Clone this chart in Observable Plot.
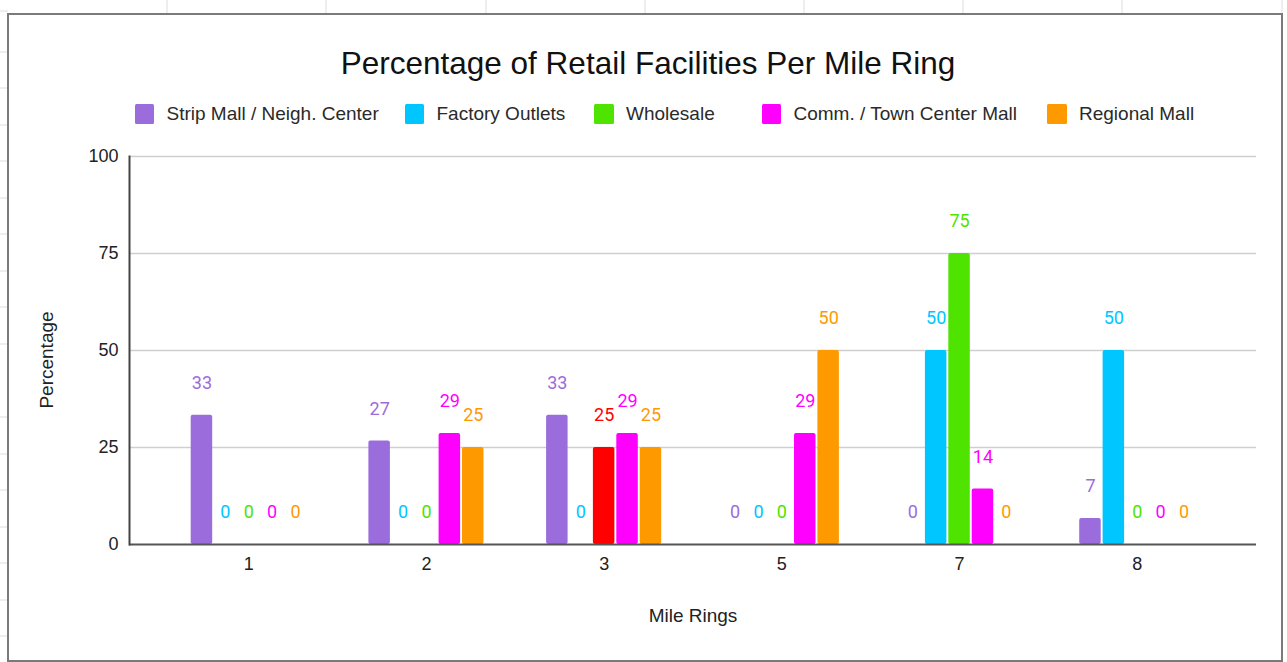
<!DOCTYPE html>
<html>
<head>
<meta charset="utf-8">
<script src="https://cdn.jsdelivr.net/npm/d3@7"></script>
<script src="https://cdn.jsdelivr.net/npm/@observablehq/plot@0.6"></script>
<style>
  html, body { margin: 0; padding: 0; background: #fff; }
  #page { position: relative; width: 1287px; height: 662px; overflow: hidden; font-family: "Liberation Sans", Arial, sans-serif; }
  #cols { position: absolute; left: 0; top: 0; width: 1287px; height: 662px;
    background-image: repeating-linear-gradient(90deg, transparent 0px, transparent 158.2px, #dcdcdc 158.2px, #dcdcdc 159.2px);
    background-position: 8.5px 0; }
  #rows { position: absolute; left: 0; top: 0; width: 8px; height: 662px;
    background-image: repeating-linear-gradient(180deg, transparent 0px, transparent 35.55px, #dcdcdc 35.55px, #dcdcdc 36.55px);
    background-position: 0 15.5px; }
  #box { position: absolute; left: 7px; top: 12.5px; width: 1276px; height: 649px; box-sizing: border-box;
    border: 2px solid #7a7a7a; background: #fff; }
  #title { position: absolute; left: 0; width: 1287px; top: 48px; text-align: center; padding-left: 9px; box-sizing: border-box;
    font-size: 31.5px; line-height: 1; color: #111; white-space: nowrap; }
  .sw { position: absolute; width: 19.5px; height: 20.5px; top: 103.5px; border-radius: 1.5px; }
  .lt { position: absolute; top: 104px; font-size: 19px; line-height: 1; color: #2a2a2a; white-space: nowrap; }
  #chart { position: absolute; left: 0; top: 140px; }
</style>
</head>
<body>
<div id="page">
  <div id="cols"></div>
  <div id="rows"></div>
  <div id="box"></div>
  <div id="title"></div>
  <div id="legend"></div>
  <div id="chart"></div>
</div>
<script>
// ---- data ----
const chartTitle = "Percentage of Retail Facilities Per Mile Ring";
const xTitle = "Mile Rings";
const yTitle = "Percentage";
const rings = ["1", "2", "3", "5", "7", "8"];
const seriesNames = ["Strip Mall / Neigh. Center", "Factory Outlets", "Wholesale", "Comm. / Town Center Mall", "Regional Mall"];
const seriesColors = ["#9b6cdc", "#00c6ff", "#4fe300", "#ff00ff", "#ff9900"];
const stripMall      = [33.3, 26.7, 33.3, 0, 0, 6.7];
const factoryOutlets = [0, 0, 0, 0, 50, 50];
const wholesale      = [0, 0, 25, 0, 75, 0];
const commTownCenter = [0, 28.6, 28.6, 28.6, 14.3, 0];
const regionalMall   = [0, 25, 25, 50, 0, 0];
// single data point drawn in a different colour in the source
const highlightRing = "3";
const highlightSeries = "Wholesale";
const highlightColor = "#ff0000";
const yTicks = [0, 25, 50, 75, 100];

// ---- layout (style only) ----
const legendX = [134.5, 404.5, 594, 761.5, 1047];
const W = 1287, H = 520, mL = 129, mR = 31, mT = 16, mB = 116;
const padIn = 0.1, padOut = 0.221;
const subStep = 23.4, barW = 21.5;

const seriesValues = [stripMall, factoryOutlets, wholesale, commTownCenter, regionalMall];
const bySeries = seriesNames.map((s, i) => rings.map((r, j) => ({
  ring: r, series: s, value: seriesValues[i][j],
  color: (r === highlightRing && s === highlightSeries) ? highlightColor : seriesColors[i]
})));

document.getElementById("title").textContent = chartTitle;
const legend = document.getElementById("legend");
seriesNames.forEach((s, i) => {
  const sw = document.createElement("div");
  sw.className = "sw";
  sw.style.left = legendX[i] + "px";
  sw.style.background = seriesColors[i];
  legend.appendChild(sw);
  const t = document.createElement("div");
  t.className = "lt";
  t.style.left = (legendX[i] + 32) + "px";
  t.textContent = s;
  legend.appendChild(t);
});

// band width of the ring scale (same parameters as Plot's x scale below)
const bw = d3.scaleBand(rings, [mL, W - mR]).paddingInner(padIn).paddingOuter(padOut).bandwidth();
const inset = (bw - barW) / 2;
const mid = (seriesNames.length - 1) / 2;

const barMarks = [];
const labelMarks = [];
bySeries.forEach((rows, i) => {
  const off = (i - mid) * subStep;
  barMarks.push(Plot.barY(rows, {x: "ring", y: "value", fill: "color", insetLeft: inset, insetRight: inset, dx: off, rx: 2}));
  labelMarks.push(Plot.text(rows, {x: "ring", y: "value", text: d => String(Math.round(d.value)), fill: "color",
    dx: off, dy: -32, fontFamily: "Roboto", fontSize: 18}));
});

const chart = Plot.plot({
  width: W,
  height: H,
  marginLeft: mL,
  marginRight: mR,
  marginTop: mT,
  marginBottom: mB,
  style: {fontFamily: "'Liberation Sans', Arial, sans-serif", fontSize: "18px", color: "#222", background: "transparent", overflow: "visible"},
  x: {domain: rings, paddingInner: padIn, paddingOuter: padOut, round: false, label: null, tickSize: 0, tickPadding: 13},
  y: {domain: [0, 100], ticks: yTicks, tickSize: 0, tickPadding: 11, label: null},
  color: {type: "identity"},
  marks: [
    Plot.ruleY(yTicks.slice(1), {stroke: "#cfcfcf", strokeWidth: 1.3}),
    ...barMarks,
    ...labelMarks,
    Plot.ruleY([0], {stroke: "#555", strokeWidth: 2}),
    Plot.frame({anchor: "left", stroke: "#444", strokeWidth: 2}),
    Plot.text([xTitle], {frameAnchor: "bottom", textAnchor: "middle", lineAnchor: "middle", dy: 71, fill: "#222", fontSize: 19}),
    Plot.text([yTitle], {frameAnchor: "left", textAnchor: "middle", lineAnchor: "middle", dx: -83, dy: 9.5, rotate: -90, fill: "#222", fontSize: 19})
  ]
});
document.getElementById("chart").appendChild(chart);
</script>
</body>
</html>
